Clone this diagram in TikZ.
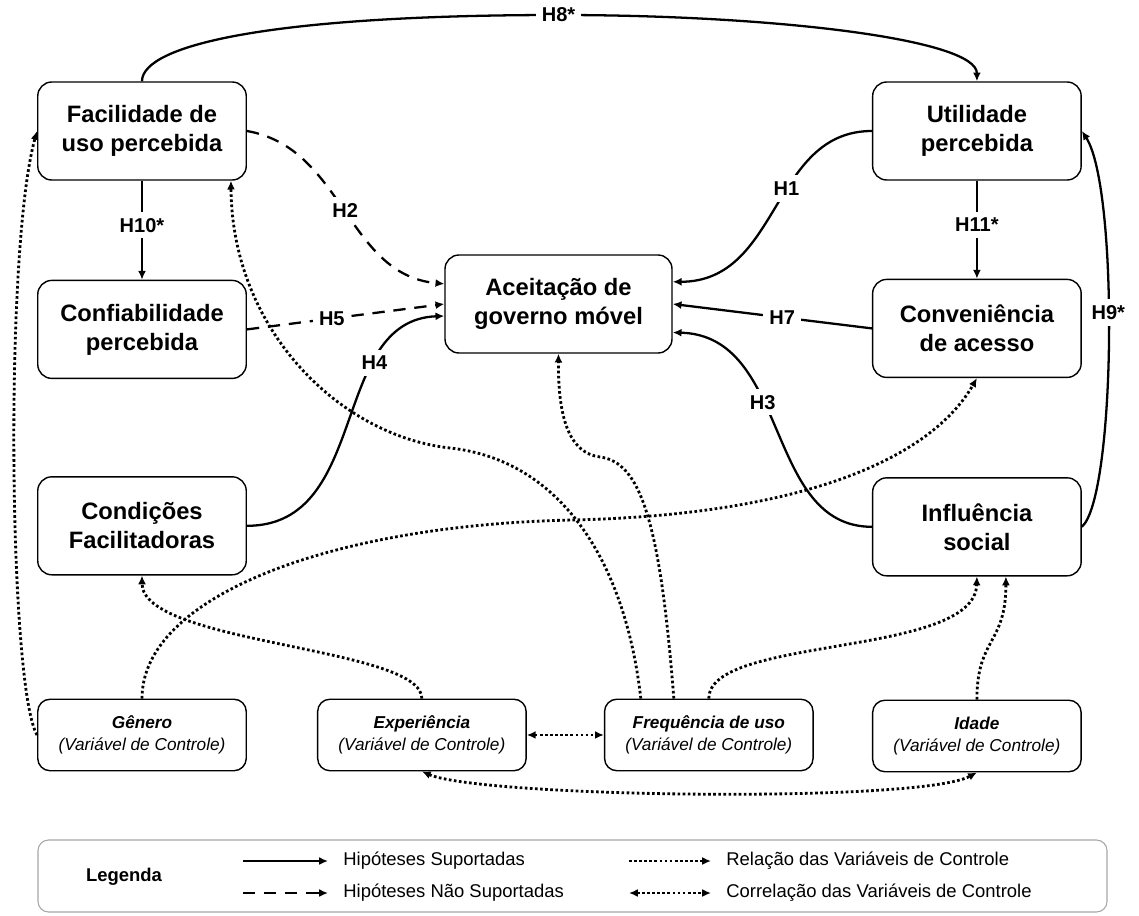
\documentclass[tikz,border=0pt]{standalone}
\usepackage{fontspec}
\setmainfont{Liberation Sans}
\usetikzlibrary{positioning,shapes,arrows.meta}

\begin{document}
\begin{tikzpicture}[
		>={Latex[length=5pt,width=4.5pt]},
		varnode/.style={draw,line width=0.8pt,rounded corners=8pt,minimum width=4.17cm,minimum height=1.96cm,align=center,font=\fontsize{13.5}{16.5}\selectfont\bfseries},
		ctrlnode/.style={varnode,minimum height=1.43cm,rounded corners=7pt,font=\fontsize{9.8}{12.5}\selectfont\itshape},
		hyplabel/.style={fill=white,inner sep=3.5pt,font=\fontsize{11.4}{13}\selectfont\bfseries},
		supp/.style={->,line width=1.3pt},
		nsupp/.style={supp,dash pattern=on 7pt off 5pt},
		relarrow/.style={->,line width=1.6pt,dash pattern=on 1.5pt off 1.4pt},
		corrarrow/.style={relarrow,<->},
		legtext/.style={anchor=west,inner sep=0pt,font=\fontsize{10.5}{12}\selectfont}
		]
		\useasboundingbox (0,0) rectangle (22.78,-18.3);
		\node[varnode] (fup) at (2.84,-2.62) {Facilidade de\\uso percebida};
		\node[varnode,below=1.98cm of fup] (conf) {Confiabilidade\\percebida};
		\node[varnode,below=1.94cm of conf] (cond) {Condições\\Facilitadoras};
		\node[ctrlnode,below=2.46cm of cond] (gen) {{\bfseries Gênero}\\(Variável de Controle)};
		\node[ctrlnode,right=1.4cm of gen] (exp) {{\bfseries Experiência}\\(Variável de Controle)};
		\node[ctrlnode,right=1.54cm of exp] (freq) {{\bfseries Frequência de uso}\\(Variável de Controle)};
		\node[varnode,right=12.5cm of fup] (util) {Utilidade\\percebida};
		\node[varnode,below=1.96cm of util] (conv) {Conveniência\\de acesso};
		\node[varnode,below=1.98cm of conv] (infl) {Influência\\social};
		\node[ctrlnode,below=2.46cm of infl] (idade) {{\bfseries Idade}\\(Variável de Controle)};
		\node[varnode,minimum width=4.54cm] (acei) at (11.17,-6.08) {Aceitação de\\governo móvel};
		
		% hipoteses
		\draw[supp] (fup.north) .. controls +(0,0.74) and (5.5,-0.3) .. (11.17,-0.3) node[hyplabel] {H8*}
		.. controls (15.5,-0.3) and +(0,0.84) .. (util.north);
		\draw[supp] (fup) -- node[hyplabel,pos=0.45] {H10*} (conf);
		\draw[supp] (util) -- node[hyplabel,pos=0.45] {H11*} (conv);
		\draw[nsupp] (fup.east) .. controls +(1.94,-0.34) and +(-1.96,0.18) .. node[hyplabel] {H2} (acei.170);
		\draw[nsupp] (conf.east) -- node[hyplabel,pos=0.43] {H5} (acei.west);
		\draw[supp] (cond.east) .. controls +(2.48,0) and +(-2.3,-0.08) .. node[hyplabel,pos=0.7] {H4} (acei.186);
		\draw[supp] (util.west) .. controls +(-2.02,0) and +(2.16,0) .. node[hyplabel,pos=0.42] {H1} (acei.11);
		\draw[supp] (conv.west) -- node[hyplabel,pos=0.45] {H7} (acei.east);
		\draw[supp] (infl.west) .. controls +(-2.16,0) and +(2.36,-0.06) .. node[hyplabel,pos=0.6] {H3} (acei.-14);
		\draw[supp] (infl.east) .. controls +(0.68,0.6) and +(0.74,-1.14) .. node[hyplabel,pos=0.55] {H9*} (util.east);
		
		% variaveis de controle
		\draw[relarrow] (gen.west) .. controls +(-0.56,0.94) and +(-0.66,-2.38) .. (fup.west);
		\draw[relarrow] ([xshift=-1.36cm]freq.north) .. controls (12.5,-11.2) and (11.2,-9.2) .. (9.0,-8.96)
		.. controls (6.8,-8.72) and (4.64,-6.6) .. ([xshift=-0.32cm]fup.south east);
		\draw[relarrow] ([xshift=-0.7cm]freq.north) .. controls (13.2,-10.4) and (12.8,-9.24) .. (12.0,-9.14)
		.. controls (11.4,-9.06) and (11.16,-8.4) .. (acei.south);
		\draw[relarrow] (freq.north) .. controls +(0,1.26) and +(-0.04,-1.62) .. (infl.south);
		\draw[relarrow] (idade.north) .. controls +(0,1.24) and +(0,-1.36) .. ([xshift=0.58cm]infl.south);
		\draw[relarrow] (gen.north) .. controls +(0,2.04) and (6.6,-10.5) .. (11.44,-10.4)
		.. controls (16.0,-10.3) and (18.6,-9.2) .. (conv.south);
		\draw[relarrow] (exp.north) .. controls +(0,1.04) and +(0,-1.38) .. (cond.south);
		\draw[corrarrow] (exp) -- (freq);
		\draw[corrarrow] (exp.south) .. controls +(1.2,-0.52) and +(-1.14,-0.62) .. (idade.south);
		
		% legenda
		\node[draw=gray!70,line width=0.6pt,rounded corners=6pt,minimum width=21.38cm,minimum height=1.44cm] (leg) at (11.45,-17.52) {};
		\node[font=\fontsize{10.5}{12}\selectfont\bfseries] (legtitle) at (2.48,-17.54) {Legenda};
		\coordinate (s1) at (4.86,-17.22);
		\coordinate (s2) at (4.86,-17.86);
		\coordinate (s3) at (12.58,-17.22);
		\coordinate (s4) at (12.58,-17.86);
		\node[legtext] (t1) at (6.86,-17.22) {Hipóteses Suportadas};
		\node[legtext] (t2) at (6.86,-17.86) {Hipóteses Não Suportadas};
		\node[legtext] (t3) at (14.52,-17.22) {Relação das Variáveis de Controle};
		\node[legtext] (t4) at (14.52,-17.86) {Correlação das Variáveis de Controle};
		\draw[supp,shorten >=0.3cm] (s1) -- (t1);
		\draw[nsupp,shorten >=0.3cm] (s2) -- (t2);
		\draw[relarrow,shorten >=0.3cm] (s3) -- (t3);
		\draw[corrarrow,shorten >=0.3cm] (s4) -- (t4);
	\end{tikzpicture}
\end{document}
